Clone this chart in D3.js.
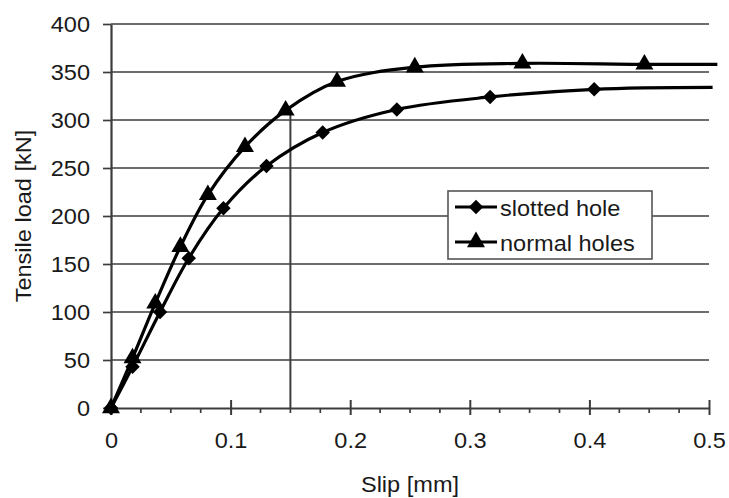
<!DOCTYPE html>
<html><head><meta charset="utf-8">
<script src="https://cdn.jsdelivr.net/npm/d3@7"></script>
<style>
body{margin:0;background:#fff;}
text{font-family:"Liberation Sans",Arial,sans-serif;fill:#1a1a1a;}
</style></head>
<body><svg id="c" width="729" height="498"></svg>
<script>
// Data
const slottedSlip = [0, 0.018, 0.041, 0.065, 0.094, 0.130, 0.177, 0.239, 0.317, 0.404];
const slottedLoad = [0, 43, 100, 156, 208, 252, 287, 311, 324, 332];
const slottedEnd = [0.503, 334];
const normalSlip = [0, 0.018, 0.037, 0.058, 0.081, 0.112, 0.146, 0.189, 0.254, 0.344, 0.446];
const normalLoad = [0, 52, 109, 168, 222, 272, 310, 340, 355, 359, 358];
const normalEnd = [0.507, 358];
const xTicks = [0, 0.1, 0.2, 0.3, 0.4, 0.5];
const yTicks = [0, 50, 100, 150, 200, 250, 300, 350, 400];
const markerSlip = 0.15, markerLoad = 310;
const seriesNames = ["slotted hole", "normal holes"];

const svg = d3.select("#c");
const x = d3.scaleLinear().domain([0, 0.5]).range([111, 709]);
const y = d3.scaleLinear().domain([0, 400]).range([408, 24]);
const gridCol = "#3c3c3c";
const STRETCH = 1.07;
const FS = 22;
function stretch(sel){ sel.each(function(){ const l=this.getComputedTextLength(); d3.select(this).attr("textLength", l*STRETCH).attr("lengthAdjust","spacingAndGlyphs"); }); }

// gridlines
svg.append("g").selectAll("line").data(yTicks.filter(d=>d>0)).join("line")
  .attr("x1", x(0)).attr("x2", x(0.5)).attr("y1", d=>y(d)).attr("y2", d=>y(d))
  .attr("stroke", gridCol).attr("stroke-width", 1.7);

// vertical reference line
svg.append("line").attr("x1", x(markerSlip)).attr("x2", x(markerSlip))
  .attr("y1", y(0)).attr("y2", y(markerLoad)).attr("stroke", gridCol).attr("stroke-width", 2);

// y axis
const gy = svg.append("g").attr("transform", `translate(${x(0)},0)`)
  .call(d3.axisLeft(y).tickValues(yTicks).tickSize(8).tickSizeOuter(0).tickPadding(13));
gy.select(".domain").attr("stroke", gridCol).attr("stroke-width", 2.2);
gy.selectAll(".tick line").attr("stroke", gridCol).attr("stroke-width", 1.7);
gy.selectAll("text").attr("font-size", FS).attr("fill", "#1a1a1a").call(stretch);

// x axis
const gx = svg.append("g").attr("transform", `translate(0,${y(0)})`)
  .call(d3.axisBottom(x).tickValues(xTicks).tickFormat(d=>d===0?"0":d3.format(".1f")(d)).tickSize(7).tickSizeOuter(0).tickPadding(17));
gx.select(".domain").attr("stroke", gridCol).attr("stroke-width", 2.2);
gx.selectAll(".tick line").attr("y1", -8).attr("stroke", gridCol).attr("stroke-width", 2);
gx.selectAll("text").attr("font-size", FS).attr("fill", "#1a1a1a").call(stretch);
// minor ticks
const minor = d3.range(0, 0.5001, 0.025).filter(v => Math.abs(v*10 - Math.round(v*10)) > 1e-6);
svg.append("g").selectAll("line").data(minor).join("line")
  .attr("x1", d=>x(d)).attr("x2", d=>x(d)).attr("y1", y(0)).attr("y2", y(0)+5)
  .attr("stroke", gridCol).attr("stroke-width", 1.7);

// axis titles
svg.append("text").attr("x", 410).attr("y", 492).attr("text-anchor", "middle")
  .attr("font-size", FS).text("Slip [mm]").call(stretch);
svg.append("text").attr("transform", "translate(31,216) rotate(-90)").attr("text-anchor", "middle")
  .attr("font-size", FS).text("Tensile load [kN]").call(stretch);

// series
const line = d3.line().x(d=>x(d[0])).y(d=>y(d[1])).curve(d3.curveCatmullRom.alpha(0.5));
const sData = slottedSlip.map((v,i)=>[v, slottedLoad[i]]);
const nData = normalSlip.map((v,i)=>[v, normalLoad[i]]);
svg.append("path").datum(sData.concat([slottedEnd])).attr("d", line)
  .attr("fill","none").attr("stroke","#000").attr("stroke-width",3.2);
svg.append("path").datum(nData.concat([normalEnd])).attr("d", line)
  .attr("fill","none").attr("stroke","#000").attr("stroke-width",3.2);

const diamond = d3.symbol().type(d3.symbolSquare).size(105);
const tri = d3.symbol().type(d3.symbolTriangle).size(140);
svg.append("g").selectAll("path").data(sData).join("path")
  .attr("d", diamond).attr("transform", d=>`translate(${x(d[0])},${y(d[1])}) rotate(45)`).attr("fill","#000");
svg.append("g").selectAll("path").data(nData).join("path")
  .attr("d", tri).attr("transform", d=>`translate(${x(d[0])},${y(d[1])})`).attr("fill","#000");

// legend
const lg = svg.append("g");
lg.append("rect").attr("x", 448).attr("y", 191).attr("width", 204).attr("height", 68)
  .attr("fill", "#fff").attr("stroke", "#555").attr("stroke-width", 1.6);
const rows = [{name: seriesNames[0], sym: diamond, rot: 45, ly: 207, ty: 216},
              {name: seriesNames[1], sym: tri, rot: 0, ly: 242, ty: 251}];
rows.forEach(r => {
  lg.append("line").attr("x1", 455).attr("x2", 497).attr("y1", r.ly).attr("y2", r.ly)
    .attr("stroke","#000").attr("stroke-width",3.2);
  lg.append("path").attr("d", r.sym).attr("transform", `translate(476,${r.ly}) rotate(${r.rot})`).attr("fill","#000");
  lg.append("text").attr("x", 500).attr("y", r.ty).attr("font-size", FS).text(r.name).call(stretch);
});
</script></body></html>
